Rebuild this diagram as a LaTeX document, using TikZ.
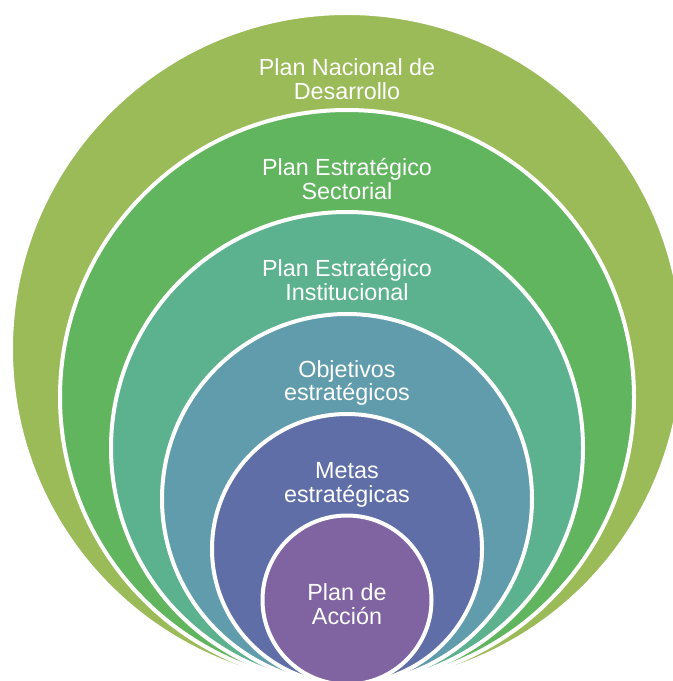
\documentclass[tikz,border=0pt]{standalone}
\usepackage{fontspec}
\setmainfont{Liberation Sans}
\usepackage{tikz}
\usetikzlibrary{positioning}
\definecolor{nivelA}{RGB}{155,187,89}
\definecolor{nivelB}{RGB}{96,181,94}
\definecolor{nivelC}{RGB}{92,177,143}
\definecolor{nivelD}{RGB}{96,156,172}
\definecolor{nivelE}{RGB}{96,110,168}
\definecolor{nivelF}{RGB}{128,100,161}
\tikzset{
  anillo/.style={draw=white,line width=3pt},
  rotulo/.style={text=white,align=center,inner sep=0pt,
    font=\fontsize{17.5}{17.5}\selectfont}
}

\begin{document}
\begin{tikzpicture}[x=0.75pt,y=-0.75pt]
\useasboundingbox (0,0) rectangle (673,681);
\clip (0,0) rectangle (673,681);
% circulos, todos tangentes abajo
\draw[anillo,fill=nivelA] (347,349) circle[radius=336];
\draw[anillo,fill=nivelB] (347,397) circle[radius=287];
\draw[anillo,fill=nivelC] (347,448) circle[radius=236];
\draw[anillo,fill=nivelD] (347,499) circle[radius=185];
\draw[anillo,fill=nivelE] (347,549) circle[radius=135];
\draw[anillo,fill=nivelF] (347,600) circle[radius=84.5];
% textos
\node[rotulo] (pnd) at (347,79) {Plan Nacional de\\Desarrollo};
\node[rotulo] (pes) at (347,179) {Plan Estratégico\\Sectorial};
\node[rotulo] (pei) at (347,280) {Plan Estratégico\\Institucional};
\node[rotulo] (obj) at (347,383) {Objetivos\\estratégicos};
\node[rotulo] (met) at (347,485) {Metas\\estratégicas};
\node[rotulo] (acc) at (347,604) {Plan de\\Acción};
\end{tikzpicture}
\end{document}
